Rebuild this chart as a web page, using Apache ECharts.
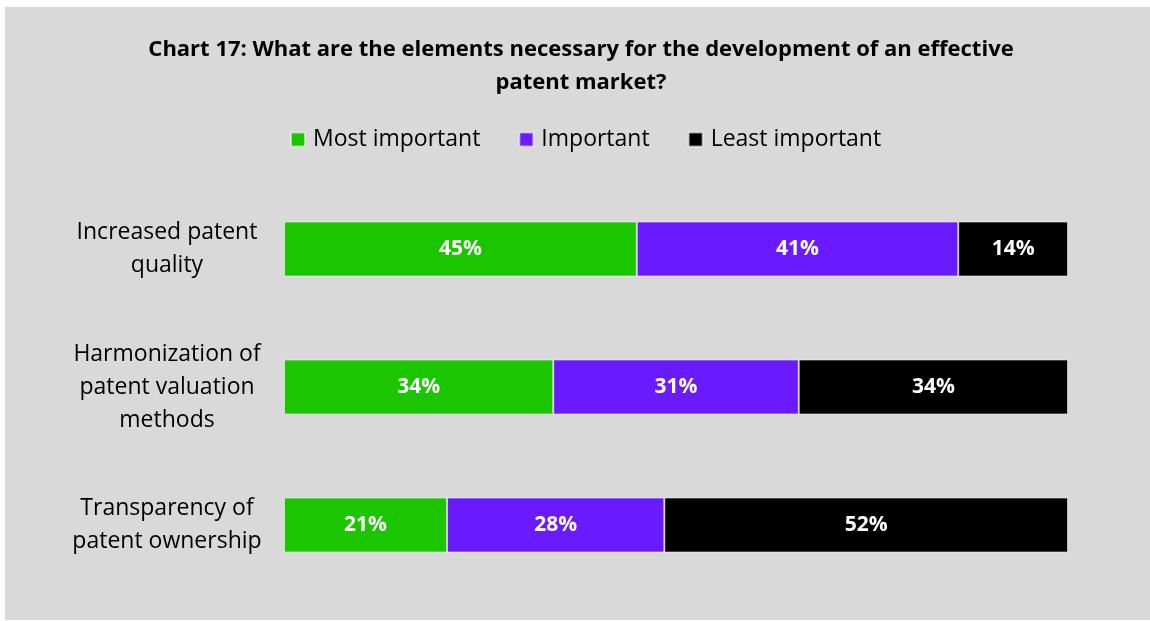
<!DOCTYPE html>
<html>
<head>
<meta charset="utf-8">
<script src="https://cdn.jsdelivr.net/npm/echarts@6/dist/echarts.min.js"></script>
<style>
  html, body { margin: 0; padding: 0; background: #ffffff; }
  #chart { width: 1150px; height: 621px; }
</style>
</head>
<body>
<div id="chart"></div>
<script>
// Survey answers, in percent of respondents per element
const categories = [
  'Increased patent\nquality',
  'Harmonization of\npatent valuation\nmethods',
  'Transparency of\npatent ownership'
];
const seriesNames = ['Most important', 'Important', 'Least important'];
const mostImportant = [45, 34, 21];
const important = [41, 31, 28];
const leastImportant = [14, 34, 52];

const colors = ['#1bc500', '#6a1aff', '#000000'];
const FONT = '"Open Sans", Lato, sans-serif';

const raw = [mostImportant, important, leastImportant];
// 100% stacked: each row is scaled by its own total
const totals = categories.map((_, i) => raw.reduce((s, arr) => s + arr[i], 0));

const series = raw.map((arr, k) => ({
  name: seriesNames[k],
  type: 'bar',
  stack: 'total',
  barWidth: 55,
  itemStyle: { color: colors[k], borderColor: 'rgba(255,255,255,0.55)', borderWidth: 1 },
  label: {
    show: true,
    position: 'inside',
    color: '#ffffff',
    fontFamily: FONT,
    fontWeight: 'bold',
    fontSize: 21,
    formatter: p => arr[p.dataIndex] + '%'
  },
  data: arr.map((v, i) => v / totals[i] * 100)
}));

const chart = echarts.init(document.getElementById('chart'), null, { renderer: 'canvas' });
chart.setOption({
  backgroundColor: '#ffffff',
  animation: false,
  graphic: [{
    type: 'rect',
    z: -10,
    silent: true,
    shape: { x: 5, y: 7, width: 1145, height: 613 },
    style: { fill: '#d9d9d9' }
  }],
  title: {
    text: 'Chart 17: What are the elements necessary for the development of an effective\npatent market?',
    left: 576,
    textAlign: 'center',
    top: 28,
    textStyle: {
      fontFamily: FONT,
      fontWeight: 'bold',
      fontSize: 22,
      lineHeight: 33,
      color: '#000000'
    }
  },
  legend: {
    top: 123,
    left: 285,
    itemWidth: 14,
    itemHeight: 14,
    itemGap: 38,
    icon: 'rect',
    textStyle: { fontFamily: FONT, fontSize: 23, color: '#000000', padding: [0, 0, 0, 3] },
    data: seriesNames
  },
  grid: { left: 284, right: 82, top: 180, bottom: 27, containLabel: false },
  xAxis: { type: 'value', min: 0, max: 100, show: false },
  yAxis: {
    type: 'category',
    inverse: true,
    data: categories,
    axisLine: { show: false },
    axisTick: { show: false },
    axisLabel: {
      margin: 117,
      align: 'center',
      fontFamily: FONT,
      fontSize: 23,
      lineHeight: 33,
      color: '#000000'
    }
  },
  series: series
});
</script>
</body>
</html>
